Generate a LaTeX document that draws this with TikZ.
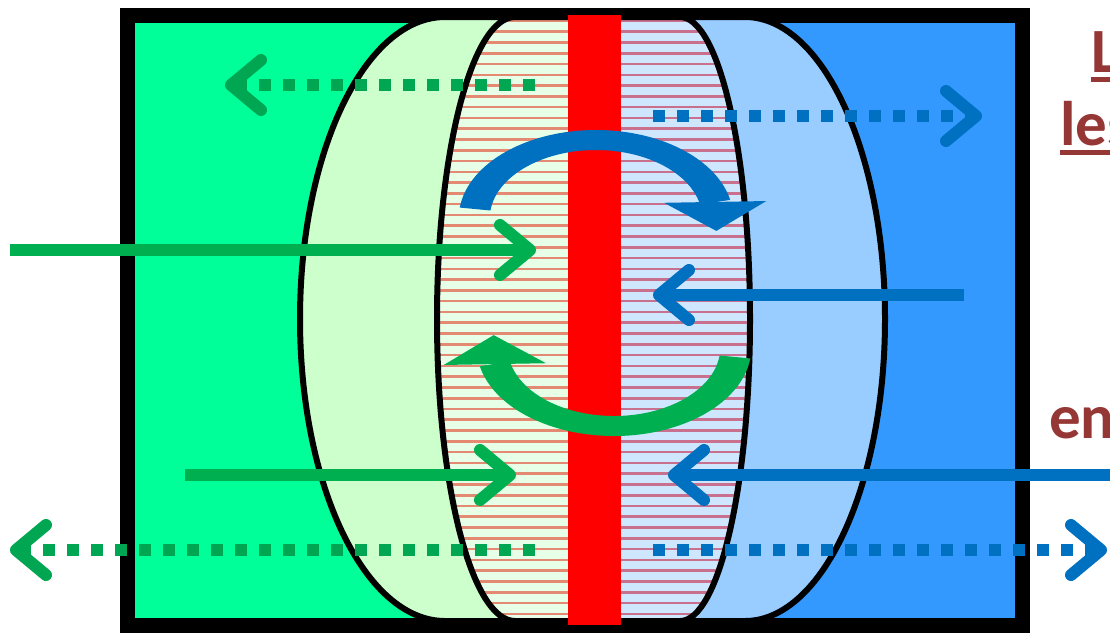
\documentclass[tikz,border=0pt]{standalone}
\usepackage{fontspec}
\newfontfamily\calibri{Carlito}
\usetikzlibrary{arrows.meta, bending}

\definecolor{mintgreen}{HTML}{00FF99}
\definecolor{palegreen}{HTML}{CCFFCC}
\definecolor{paleblue}{HTML}{99CCFF}
\definecolor{midblue}{HTML}{3399FF}
\definecolor{arrowgreen}{HTML}{00B050}
\definecolor{dotgreen}{HTML}{00A651}
\definecolor{arrowblue}{HTML}{0070C0}
\definecolor{hatchgreen}{HTML}{E6FFE6}
\definecolor{hatchblue}{HTML}{CFE6FF}
\definecolor{hatchsalmon}{HTML}{E58A72}
\definecolor{hatchrose}{HTML}{C9708E}
\definecolor{labelred}{HTML}{953735}

\newcommand{\ulword}[1]{\setbox0\hbox{#1}\rlap{\rule[-10pt]{\wd0}{5pt}}\box0}

\begin{document}
\begin{tikzpicture}[
        x=1pt, y=-1pt,
        % Define Styles
        boxframe/.style={draw=black, line width=15pt},
        lensline/.style={draw=black, line width=6pt},
        hatchline/.style={line width=2.6pt},
        solidarrow/.style={line width=12pt, -{Straight Barb[length=30pt, width=50pt, round]}},
        dotarrow/.style={line width=12pt, dash pattern=on 12pt off 12pt, -{Straight Barb[length=30pt, width=50pt, round]}},
        swirl/.style={line width=20pt, -{Triangle[length=29pt, width=66pt, line width=0pt]}},
        sidetext/.style={font=\calibri\bfseries\fontsize{63}{70}\selectfont, text=labelred, inner sep=0pt, anchor=base west}
    ]
    \useasboundingbox (0,0) rectangle (1110,633);

    \def\outerlens{(445,17) -- (745,17) arc[start angle=-90, end angle=90, x radius=140, y radius=302] -- (445,621) arc[start angle=90, end angle=270, x radius=145, y radius=302] -- cycle}
    \def\innerlens{(515,17) -- (680,17) arc[start angle=-90, end angle=90, x radius=70, y radius=302] -- (515,621) arc[start angle=90, end angle=270, x radius=78, y radius=302] -- cycle}

    % --- BOX (two sides) ---
    \fill[mintgreen] (127.5,15) rectangle (595,625.5);
    \fill[midblue] (595,15) rectangle (1022.5,625.5);
    \draw[boxframe] (127.5,15) rectangle (1022.5,625.5);

    % --- OUTER LENS ---
    \begin{scope}
        \clip \outerlens;
        \fill[palegreen] (280,0) rectangle (595,640);
        \fill[paleblue] (595,0) rectangle (900,640);
    \end{scope}
    \draw[lensline] \outerlens;

    % --- INNER LENS (hatched) ---
    \begin{scope}
        \clip \innerlens;
        \fill[hatchgreen] (430,0) rectangle (595,640);
        \fill[hatchblue] (595,0) rectangle (760,640);
        \foreach \hy in {20.9,31.68,...,625}
        {
            \draw[hatchline, hatchsalmon] (430,\hy) -- (595,\hy);
            \draw[hatchline, hatchrose] (595,\hy) -- (760,\hy);
        }
    \end{scope}
    \draw[lensline] \innerlens;

    % --- RED BAR ---
    \fill[red] (568,15) rectangle (621,625);

    % --- STRAIGHT ARROWS ---
    \coordinate (gLeakTopA) at (535,85);   \coordinate (gLeakTopB) at (225,85);
    \coordinate (bLeakTopA) at (653,116);  \coordinate (bLeakTopB) at (982,116);
    \coordinate (gInTopA) at (10,250);     \coordinate (gInTopB) at (536,250);
    \coordinate (bInTopA) at (964,295);    \coordinate (bInTopB) at (653,295);
    \coordinate (gInLowA) at (185,475);    \coordinate (gInLowB) at (516,475);
    \coordinate (bInLowA) at (1120,475);   \coordinate (bInLowB) at (668,475);
    \coordinate (gLeakLowA) at (535,550);  \coordinate (gLeakLowB) at (10,550);
    \coordinate (bLeakLowA) at (653,550);  \coordinate (bLeakLowB) at (1107,550);

    \draw[dotarrow, dotgreen] (gLeakTopA) -- (gLeakTopB);
    \draw[dotarrow, arrowblue] (bLeakTopA) -- (bLeakTopB);
    \draw[solidarrow, arrowgreen] (gInTopA) -- (gInTopB);
    \draw[solidarrow, arrowblue] (bInTopA) -- (bInTopB);
    \draw[solidarrow, arrowgreen] (gInLowA) -- (gInLowB);
    \draw[solidarrow, arrowblue] (bInLowA) -- (bInLowB);
    \draw[dotarrow, dotgreen] (gLeakLowA) -- (gLeakLowB);
    \draw[dotarrow, arrowblue] (bLeakLowA) -- (bLeakLowB);

    % --- CURVED ARROWS ---
    \begin{scope}[transform canvas={shift={(596,218.6)}, xscale=1.55}]
        \coordinate (blueTail) at (187:78.6);
        \draw[swirl, arrowblue] (blueTail) arc[start angle=187, end angle=369, radius=78.6];
    \end{scope}
    \begin{scope}[transform canvas={shift={(614,347.4)}, xscale=1.55}]
        \coordinate (greenTail) at (7:78.6);
        \draw[swirl, arrowgreen] (greenTail) arc[start angle=7, end angle=189, radius=78.6];
    \end{scope}

    % --- SIDE TEXT (cut at the edge, as in the source) ---
    \node[sidetext] (txtL) at (1091,72) {\ulword{L}};
    \node[sidetext] (txtLes) at (1060,145) {\ulword{les}};
    \node[sidetext] (txtEn) at (1049,438) {en};

\end{tikzpicture}
\end{document}
